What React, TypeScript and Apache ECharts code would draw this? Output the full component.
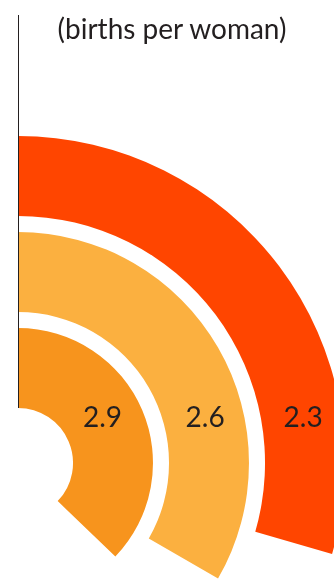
import React, { useEffect, useRef } from "react";
import * as echarts from "echarts";

const categories = ["Inner", "Middle", "Outer"];
const values = [2.9, 2.6, 2.3];
const colors = ["#F7941D", "#FBB040", "#FF4500"];
const subtitle = "(births per woman)";

const W = 334;
const H = 579;
const CX = 18;
const CY = 463;
const R_IN = 47;
const R_OUT = 335;
const ANGLE_MAX = 7.8;
const LABEL_DY = 47;
const TEXT_COLOR = "#231f20";
const FONT = "Lato, 'Open Sans', sans-serif";

export default function App() {
  const ref = useRef<HTMLDivElement>(null);
  useEffect(() => {
    if (!ref.current) return;
    const chart = echarts.init(ref.current, undefined, { renderer: "svg" });
    const band = (R_OUT - R_IN) / categories.length;
    const labels = values.map((v, i) => {
      const r = R_IN + band * (i + 0.5);
      const x = CX + Math.sqrt(r * r - LABEL_DY * LABEL_DY) + 2;
      return {
        type: "text",
        x,
        y: CY - LABEL_DY,
        style: {
          text: v.toFixed(1),
          fill: TEXT_COLOR,
          font: `28px ${FONT}`,
          textAlign: "center",
          textVerticalAlign: "middle",
        },
        z: 10,
      };
    });
    chart.setOption({
      animation: false,
      polar: { center: [CX, CY], radius: [R_IN, R_OUT] },
      angleAxis: {
        type: "value",
        startAngle: 90,
        clockwise: true,
        min: 0,
        max: ANGLE_MAX,
        show: false,
      },
      radiusAxis: { type: "category", data: categories, show: false },
      series: [
        {
          type: "bar",
          coordinateSystem: "polar",
          barCategoryGap: "16.7%",
          data: values.map((v, i) => ({ value: v, itemStyle: { color: colors[i] } })),
        },
      ],
      graphic: [
        {
          type: "line",
          shape: { x1: CX + 0.5, y1: 15, x2: CX + 0.5, y2: CY - 55 },
          style: { stroke: TEXT_COLOR, lineWidth: 1 },
          z: 10,
        },
        {
          type: "text",
          x: 172,
          y: 28,
          style: {
            text: subtitle,
            fill: TEXT_COLOR,
            font: `28px ${FONT}`,
            textAlign: "center",
            textVerticalAlign: "middle",
          },
        },
        ...labels,
      ],
    });
    return () => chart.dispose();
  }, []);
  return (
    <div
      ref={ref}
      style={{ position: "fixed", left: 0, top: 0, width: W, height: H }}
    />
  );
}
